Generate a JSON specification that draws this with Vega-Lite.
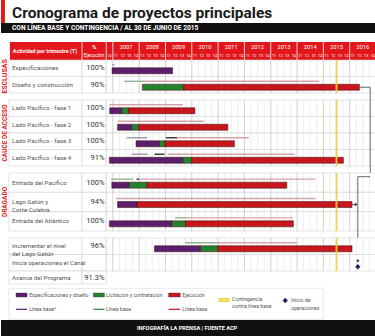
{
"$schema": "https://vega.github.io/schema/vega-lite/v6.json",
"padding": 0,
"background": "white",
"bounds": "flush",
"spacing": 0,
"config": {"view": {"stroke": null}, "font": "Liberation Sans Narrow, Roboto, sans-serif", "axis": {"disable": true}, "legend": {"disable": true}},
"datasets": {
"rows": [
{"g":"E","row":"esp","label":"Especificaciones","pct":"100%"},
{"g":"E","row":"dis","label":"Diseño y construcción","pct":"90%"},
{"g":"C","row":"f1","label":"Lado Pacífico  - fase 1","pct":"100%"},
{"g":"C","row":"f2","label":"Lado Pacífico  - fase 2","pct":"100%"},
{"g":"C","row":"f3","label":"Lado Pacífico  - fase 3","pct":"100%"},
{"g":"C","row":"f4","label":"Lado Pacífico  - fase 4","pct":"91%"},
{"g":"D","row":"ep","label":"Entrada del Pacífico","pct":"100%"},
{"g":"D","row":"lg","label":"Lago Gatún y\nCorte Culebra","pct":"94%"},
{"g":"D","row":"ea","label":"Entrada del Atlántico","pct":"100%"},
{"g":"O","row":"inc","label":"Incrementar el nivel\ndel Lago Gatún","pct":"96%"},
{"g":"O","row":"ini","label":"Inicia operaciones el Canal","pct":""},
{"g":"A","row":"av","label":"Avance del Programa","pct":"91.3%"}
],
"bars": [
{"g":"E","row":"esp","phase":"spec","start":2006.97,"end":2009.27},
{"g":"E","row":"dis","phase":"lic","start":2008.12,"end":2009.69},
{"g":"E","row":"dis","phase":"eje","start":2009.69,"end":2016.37},
{"g":"C","row":"f1","phase":"spec","start":2006.88,"end":2007.34},
{"g":"C","row":"f1","phase":"lic","start":2007.34,"end":2007.6},
{"g":"C","row":"f1","phase":"eje","start":2007.6,"end":2010.12},
{"g":"C","row":"f2","phase":"spec","start":2007.18,"end":2007.72},
{"g":"C","row":"f2","phase":"lic","start":2007.72,"end":2007.98},
{"g":"C","row":"f2","phase":"eje","start":2007.98,"end":2011.37},
{"g":"C","row":"f3","phase":"spec","start":2007.88,"end":2008.77},
{"g":"C","row":"f3","phase":"lic","start":2008.77,"end":2008.98},
{"g":"C","row":"f3","phase":"eje","start":2008.98,"end":2011.62},
{"g":"C","row":"f4","phase":"spec","start":2006.87,"end":2009.66},
{"g":"C","row":"f4","phase":"lic","start":2009.66,"end":2010.0},
{"g":"C","row":"f4","phase":"eje","start":2010.0,"end":2015.76},
{"g":"D","row":"ep","phase":"spec","start":2006.96,"end":2007.63},
{"g":"D","row":"ep","phase":"lic","start":2007.63,"end":2008.3},
{"g":"D","row":"ep","phase":"eje","start":2008.3,"end":2013.61},
{"g":"D","row":"lg","phase":"spec","start":2007.18,"end":2007.92},
{"g":"D","row":"lg","phase":"eje","start":2007.92,"end":2016.09},
{"g":"D","row":"ea","phase":"spec","start":2006.87,"end":2009.24},
{"g":"D","row":"ea","phase":"lic","start":2009.24,"end":2009.76},
{"g":"D","row":"ea","phase":"eje","start":2009.76,"end":2013.86},
{"g":"O","row":"inc","phase":"spec","start":2008.58,"end":2010.33},
{"g":"O","row":"inc","phase":"lic","start":2010.33,"end":2010.99},
{"g":"O","row":"inc","phase":"eje","start":2010.99,"end":2016.09}
],
"base": [
{"g":"E","row":"esp","kind":"spec","start":2006.97,"end":2007.06},
{"g":"E","row":"dis","kind":"lic","start":2007.44,"end":2008.2},
{"g":"E","row":"dis","kind":"eje","start":2008.2,"end":2014.85},
{"g":"C","row":"f1","kind":"eje","start":2006.87,"end":2009.66},
{"g":"C","row":"f2","kind":"eje","start":2007.18,"end":2010.45},
{"g":"C","row":"f3","kind":"spec","start":2007.53,"end":2008.3},
{"g":"C","row":"f3","kind":"real","start":2009.02,"end":2009.44},
{"g":"C","row":"f3","kind":"eje","start":2009.44,"end":2012.17},
{"g":"C","row":"f4","kind":"spec","start":2007.73,"end":2008.33},
{"g":"C","row":"f4","kind":"real","start":2008.58,"end":2008.96},
{"g":"C","row":"f4","kind":"eje","start":2009.09,"end":2013.9},
{"g":"D","row":"ep","kind":"lic","start":2006.93,"end":2007.76},
{"g":"D","row":"ep","kind":"real","start":2007.9,"end":2008.0},
{"g":"D","row":"ep","kind":"eje","start":2008.0,"end":2014.7},
{"g":"D","row":"lg","kind":"eje","start":2007.12,"end":2014.7},
{"g":"D","row":"ea","kind":"lic","start":2009.36,"end":2009.85},
{"g":"D","row":"ea","kind":"eje","start":2009.85,"end":2013.84},
{"g":"O","row":"inc","kind":"lic","start":2009.74,"end":2010.99},
{"g":"O","row":"inc","kind":"eje","start":2010.99,"end":2014.0}
],
"quarters": [
{"t":2006.75,"q":"T4"},
{"t":2007,"q":"T1"},{"t":2007.25,"q":"T2"},{"t":2007.5,"q":"T3"},{"t":2007.75,"q":"T4"},
{"t":2008,"q":"T1"},{"t":2008.25,"q":"T2"},{"t":2008.5,"q":"T3"},{"t":2008.75,"q":"T4"},
{"t":2009,"q":"T1"},{"t":2009.25,"q":"T2"},{"t":2009.5,"q":"T3"},{"t":2009.75,"q":"T4"},
{"t":2010,"q":"T1"},{"t":2010.25,"q":"T2"},{"t":2010.5,"q":"T3"},{"t":2010.75,"q":"T4"},
{"t":2011,"q":"T1"},{"t":2011.25,"q":"T2"},{"t":2011.5,"q":"T3"},{"t":2011.75,"q":"T4"},
{"t":2012,"q":"T1"},{"t":2012.25,"q":"T2"},{"t":2012.5,"q":"T3"},{"t":2012.75,"q":"T4"},
{"t":2013,"q":"T1"},{"t":2013.25,"q":"T2"},{"t":2013.5,"q":"T3"},{"t":2013.75,"q":"T4"},
{"t":2014,"q":"T1"},{"t":2014.25,"q":"T2"},{"t":2014.5,"q":"T3"},{"t":2014.75,"q":"T4"},
{"t":2015,"q":"T1"},{"t":2015.25,"q":"T2"},{"t":2015.5,"q":"T3"},{"t":2015.75,"q":"T4"},
{"t":2016,"q":"T1"},{"t":2016.25,"q":"T2"},{"t":2016.5,"q":"T3"},{"t":2016.75,"q":"T4"}
],
"years": [
{"year":2007,"label":"2007"},{"year":2008,"label":"2008"},{"year":2009,"label":"2009"},{"year":2010,"label":"2010"},{"year":2011,"label":"2011"},
{"year":2012,"label":"2012"},{"year":2013,"label":"2013"},{"year":2014,"label":"2014"},{"year":2015,"label":"2015"},{"year":2016,"label":"2016"}
]
},
"vconcat": [
{
"width": 375, "height": 23,
"data": {"values": [{}]},
"layer": [
{"mark": {"type": "rect", "fill": "#e3161c"},
 "encoding": {"x": {"datum": 2002.75, "type": "quantitative", "scale": {"domain": [2002.75, 2017], "nice": false, "zero": false}, "axis": null}, "x2": {"datum": 2002.9}}},
{"mark": {"type": "text", "text": "Cronograma de proyectos principales", "align": "left", "baseline": "middle", "fontSize": 15.5, "fontWeight": "bold", "fill": "#1a1a1a", "dy": 1},
 "encoding": {"x": {"datum": 2003.17, "type": "quantitative"}}}
]
},
{
"width": 375, "height": 10,
"view": {"fill": "#111111", "stroke": null},
"data": {"values": [{}]},
"mark": {"type": "text", "text": "CON LÍNEA BASE Y CONTINGENCIA / AL 30 DE JUNIO DE 2015", "align": "left", "baseline": "middle", "fontSize": 6.6, "fontWeight": "bold", "fill": "white"},
"encoding": {"x": {"datum": 2003.17, "type": "quantitative", "scale": {"domain": [2002.75, 2017], "nice": false, "zero": false}, "axis": null}}
},
{
"width": 375, "height": 27,
"layer": [
{"data": {"values": [{"b": "yr"}, {"b": "qt"}]},
 "mark": {"type": "rect", "fill": "#e3161c"},
 "encoding": {"x": {"datum": 2003.09, "type": "quantitative", "scale": {"domain": [2002.75, 2017], "nice": false, "zero": false}, "axis": null}, "x2": {"datum": 2017},
  "y": {"field": "b", "type": "nominal", "scale": {"type": "band", "domain": ["blank", "yr", "qt"], "paddingInner": 0, "paddingOuter": 0}, "axis": null}}},
{"data": {"name": "quarters"}, "transform": [{"filter": "datum.q == 'T1'"}],
 "mark": {"type": "rule", "stroke": "white", "strokeWidth": 0.8},
 "encoding": {"x": {"field": "t", "type": "quantitative"}}},
{"data": {"values": [{}]}, "mark": {"type": "rule", "stroke": "white", "strokeWidth": 0.8},
 "encoding": {"x": {"datum": 2005.83, "type": "quantitative"}}},
{"data": {"values": [{}]}, "mark": {"type": "rule", "stroke": "white", "strokeWidth": 0.8},
 "encoding": {"x": {"datum": 2006.75, "type": "quantitative"}}},
{"data": {"name": "years"},
 "mark": {"type": "text", "fill": "white", "fontSize": 5.8, "dx": 13.15, "baseline": "middle"},
 "encoding": {"x": {"field": "year", "type": "quantitative"}, "y": {"datum": "yr", "type": "nominal"}, "text": {"field": "label"}}},
{"data": {"name": "quarters"},
 "mark": {"type": "text", "fill": "white", "fontSize": 3.6, "dx": 3.29, "baseline": "middle"},
 "encoding": {"x": {"field": "t", "type": "quantitative"}, "y": {"datum": "qt", "type": "nominal"}, "text": {"field": "q"}}},
{"data": {"values": [{}]},
 "mark": {"type": "text", "text": "Actividad por trimestre (T)", "fill": "white", "fontWeight": "bold", "fontSize": 5.4, "dy": 4.5, "baseline": "middle"},
 "encoding": {"x": {"datum": 2004.42, "type": "quantitative"}, "y": {"datum": "yr", "type": "nominal"}}},
{"data": {"values": [{}]},
 "mark": {"type": "text", "text": "%", "fill": "white", "fontWeight": "bold", "fontSize": 6, "baseline": "middle"},
 "encoding": {"x": {"datum": 2006.29, "type": "quantitative"}, "y": {"datum": "yr", "type": "nominal"}}},
{"data": {"values": [{}]},
 "mark": {"type": "text", "text": "Ejecución", "fill": "white", "fontSize": 4.8, "baseline": "middle"},
 "encoding": {"x": {"datum": 2006.29, "type": "quantitative"}, "y": {"datum": "qt", "type": "nominal"}}}
]
},
{
"width": 375, "height": 33,
"data": {"name": "rows"}, "transform": [{"filter": "datum.g == 'E'"}],
"layer": [
{"mark": {"type": "rect", "fill": "white", "stroke": "#d2d2d2", "strokeWidth": 0.6},
 "encoding": {"x": {"datum": 2003.05, "type": "quantitative", "scale": {"domain": [2002.75, 2017], "nice": false, "zero": false}, "axis": null}, "x2": {"datum": 2005.83},
  "y": {"field": "row", "type": "nominal", "scale": {"type": "band", "domain": ["esp", "dis"], "paddingInner": 0, "paddingOuter": 0}, "axis": null}}},
{"mark": {"type": "rect", "fill": "white", "stroke": "#d2d2d2", "strokeWidth": 0.6},
 "encoding": {"x": {"datum": 2005.83, "type": "quantitative"}, "x2": {"datum": 2006.75}, "y": {"field": "row", "type": "nominal"}}},
{"mark": {"type": "rect", "fill": "white", "stroke": "#d2d2d2", "strokeWidth": 0.6},
 "encoding": {"x": {"datum": 2006.75, "type": "quantitative"}, "x2": {"datum": 2017}, "y": {"field": "row", "type": "nominal"}}},
{"data": {"name": "quarters"}, "mark": {"type": "rule", "strokeWidth": 0.6},
 "encoding": {"x": {"field": "t", "type": "quantitative"}, "stroke": {"condition": {"test": "datum.q == 'T1'", "value": "#b3b3b3"}, "value": "#e2e2e2"}}},
{"data": {"name": "base"}, "transform": [{"filter": "datum.g == 'E'"}],
 "mark": {"type": "rule", "strokeWidth": 1.4, "yOffset": -3.5},
 "encoding": {"x": {"field": "start", "type": "quantitative"}, "x2": {"field": "end"}, "y": {"field": "row", "type": "nominal"},
  "stroke": {"field": "kind", "type": "nominal", "scale": {"domain": ["spec", "lic", "eje", "real"], "range": ["#a394ab", "#93b593", "#d4a5a8", "#333333"]}, "legend": null}}},
{"data": {"name": "bars"}, "transform": [{"filter": "datum.g == 'E'"}],
 "mark": {"type": "bar", "size": 6, "yOffset": 2.5, "stroke": "#3d0a0a", "strokeWidth": 0.5},
 "encoding": {"x": {"field": "start", "type": "quantitative"}, "x2": {"field": "end"}, "y": {"field": "row", "type": "nominal"},
  "color": {"field": "phase", "type": "nominal", "scale": {"domain": ["spec", "lic", "eje"], "range": ["#5b1f6e", "#23832f", "#c8161d"]}, "legend": null}}},
{"data": {"values": [{}]}, "mark": {"type": "rule", "stroke": "#f2cd45", "strokeWidth": 2, "opacity": 0.9},
 "encoding": {"x": {"datum": 2015.5, "type": "quantitative"}}},
{"mark": {"type": "text", "align": "left", "baseline": "middle", "fontSize": 6.2, "fill": "#555555", "lineBreak": "\n", "lineHeight": 7.5},
 "encoding": {"x": {"datum": 2003.17, "type": "quantitative"}, "y": {"field": "row", "type": "nominal"}, "text": {"field": "label"}}},
{"mark": {"type": "text", "align": "right", "baseline": "middle", "fontSize": 7.5, "fill": "#333333"},
 "encoding": {"x": {"datum": 2006.68, "type": "quantitative"}, "y": {"field": "row", "type": "nominal"}, "text": {"field": "pct"}}},
{"data": {"values": [{}]}, "mark": {"type": "text", "text": "ESCLUSAS", "angle": 270, "align": "center", "baseline": "middle", "fontSize": 7, "fontWeight": "bold", "fill": "#d7191c"},
 "encoding": {"x": {"datum": 2002.9, "type": "quantitative"}}},
{"data": {"values": [{}]}, "mark": {"type": "rule", "stroke": "#444444", "strokeWidth": 0.8, "yOffset": 2.5},
 "encoding": {"x": {"datum": 2016.37, "type": "quantitative"}, "x2": {"datum": 2016.78}, "y": {"datum": "dis", "type": "nominal"}}},
{"data": {"values": [{}]}, "mark": {"type": "rule", "stroke": "#444444", "strokeWidth": 0.8, "yOffset": 2.5},
 "encoding": {"x": {"datum": 2016.78, "type": "quantitative"}, "y": {"datum": "dis", "type": "nominal"}, "y2": {"value": "height"}}}
]
},
{
"width": 375, "height": 7,
"data": {"values": [{}]},
"layer": [
{"mark": {"type": "rule", "stroke": "#444444", "strokeWidth": 0.8},
 "encoding": {"x": {"datum": 2016.78, "type": "quantitative", "scale": {"domain": [2002.75, 2017], "nice": false, "zero": false}, "axis": null}}}
]
},
{
"width": 375, "height": 66,
"data": {"name": "rows"}, "transform": [{"filter": "datum.g == 'C'"}],
"layer": [
{"mark": {"type": "rect", "fill": "white", "stroke": "#d2d2d2", "strokeWidth": 0.6},
 "encoding": {"x": {"datum": 2003.05, "type": "quantitative", "scale": {"domain": [2002.75, 2017], "nice": false, "zero": false}, "axis": null}, "x2": {"datum": 2005.83},
  "y": {"field": "row", "type": "nominal", "scale": {"type": "band", "domain": ["f1", "f2", "f3", "f4"], "paddingInner": 0, "paddingOuter": 0}, "axis": null}}},
{"mark": {"type": "rect", "fill": "white", "stroke": "#d2d2d2", "strokeWidth": 0.6},
 "encoding": {"x": {"datum": 2005.83, "type": "quantitative"}, "x2": {"datum": 2006.75}, "y": {"field": "row", "type": "nominal"}}},
{"mark": {"type": "rect", "fill": "white", "stroke": "#d2d2d2", "strokeWidth": 0.6},
 "encoding": {"x": {"datum": 2006.75, "type": "quantitative"}, "x2": {"datum": 2017}, "y": {"field": "row", "type": "nominal"}}},
{"data": {"name": "quarters"}, "mark": {"type": "rule", "strokeWidth": 0.6},
 "encoding": {"x": {"field": "t", "type": "quantitative"}, "stroke": {"condition": {"test": "datum.q == 'T1'", "value": "#b3b3b3"}, "value": "#e2e2e2"}}},
{"data": {"name": "base"}, "transform": [{"filter": "datum.g == 'C'"}],
 "mark": {"type": "rule", "strokeWidth": 1.4, "yOffset": -3.5},
 "encoding": {"x": {"field": "start", "type": "quantitative"}, "x2": {"field": "end"}, "y": {"field": "row", "type": "nominal"},
  "stroke": {"field": "kind", "type": "nominal", "scale": {"domain": ["spec", "lic", "eje", "real"], "range": ["#a394ab", "#93b593", "#d4a5a8", "#333333"]}, "legend": null}}},
{"data": {"name": "bars"}, "transform": [{"filter": "datum.g == 'C'"}],
 "mark": {"type": "bar", "size": 6, "yOffset": 2.5, "stroke": "#3d0a0a", "strokeWidth": 0.5},
 "encoding": {"x": {"field": "start", "type": "quantitative"}, "x2": {"field": "end"}, "y": {"field": "row", "type": "nominal"},
  "color": {"field": "phase", "type": "nominal", "scale": {"domain": ["spec", "lic", "eje"], "range": ["#5b1f6e", "#23832f", "#c8161d"]}, "legend": null}}},
{"data": {"values": [{}]}, "mark": {"type": "rule", "stroke": "#f2cd45", "strokeWidth": 2, "opacity": 0.9},
 "encoding": {"x": {"datum": 2015.5, "type": "quantitative"}}},
{"mark": {"type": "text", "align": "left", "baseline": "middle", "fontSize": 6.2, "fill": "#555555", "lineBreak": "\n", "lineHeight": 7.5},
 "encoding": {"x": {"datum": 2003.17, "type": "quantitative"}, "y": {"field": "row", "type": "nominal"}, "text": {"field": "label"}}},
{"mark": {"type": "text", "align": "right", "baseline": "middle", "fontSize": 7.5, "fill": "#333333"},
 "encoding": {"x": {"datum": 2006.68, "type": "quantitative"}, "y": {"field": "row", "type": "nominal"}, "text": {"field": "pct"}}},
{"data": {"values": [{}]}, "mark": {"type": "text", "text": "CAUCE DE ACCESO", "angle": 270, "align": "center", "baseline": "middle", "fontSize": 6.5, "fontWeight": "bold", "fill": "#d7191c"},
 "encoding": {"x": {"datum": 2002.9, "type": "quantitative"}}},
{"data": {"values": [{}]}, "mark": {"type": "rule", "stroke": "#444444", "strokeWidth": 0.8},
 "encoding": {"x": {"datum": 2016.78, "type": "quantitative"}}}
]
},
{
"width": 375, "height": 7,
"data": {"values": [{}]},
"layer": [
{"mark": {"type": "rule", "stroke": "#444444", "strokeWidth": 0.8},
 "encoding": {"x": {"datum": 2016.78, "type": "quantitative", "scale": {"domain": [2002.75, 2017], "nice": false, "zero": false}, "axis": null}}}
]
},
{
"width": 375, "height": 58,
"data": {"name": "rows"}, "transform": [{"filter": "datum.g == 'D'"}],
"layer": [
{"mark": {"type": "rect", "fill": "white", "stroke": "#d2d2d2", "strokeWidth": 0.6},
 "encoding": {"x": {"datum": 2003.05, "type": "quantitative", "scale": {"domain": [2002.75, 2017], "nice": false, "zero": false}, "axis": null}, "x2": {"datum": 2005.83},
  "y": {"field": "row", "type": "nominal", "scale": {"type": "band", "domain": ["ep", "lg", "ea"], "paddingInner": 0, "paddingOuter": 0}, "axis": null}}},
{"mark": {"type": "rect", "fill": "white", "stroke": "#d2d2d2", "strokeWidth": 0.6},
 "encoding": {"x": {"datum": 2005.83, "type": "quantitative"}, "x2": {"datum": 2006.75}, "y": {"field": "row", "type": "nominal"}}},
{"mark": {"type": "rect", "fill": "white", "stroke": "#d2d2d2", "strokeWidth": 0.6},
 "encoding": {"x": {"datum": 2006.75, "type": "quantitative"}, "x2": {"datum": 2017}, "y": {"field": "row", "type": "nominal"}}},
{"data": {"name": "quarters"}, "mark": {"type": "rule", "strokeWidth": 0.6},
 "encoding": {"x": {"field": "t", "type": "quantitative"}, "stroke": {"condition": {"test": "datum.q == 'T1'", "value": "#b3b3b3"}, "value": "#e2e2e2"}}},
{"data": {"name": "base"}, "transform": [{"filter": "datum.g == 'D'"}],
 "mark": {"type": "rule", "strokeWidth": 1.4, "yOffset": -3.5},
 "encoding": {"x": {"field": "start", "type": "quantitative"}, "x2": {"field": "end"}, "y": {"field": "row", "type": "nominal"},
  "stroke": {"field": "kind", "type": "nominal", "scale": {"domain": ["spec", "lic", "eje", "real"], "range": ["#a394ab", "#93b593", "#d4a5a8", "#333333"]}, "legend": null}}},
{"data": {"name": "bars"}, "transform": [{"filter": "datum.g == 'D'"}],
 "mark": {"type": "bar", "size": 6, "yOffset": 2.5, "stroke": "#3d0a0a", "strokeWidth": 0.5},
 "encoding": {"x": {"field": "start", "type": "quantitative"}, "x2": {"field": "end"}, "y": {"field": "row", "type": "nominal"},
  "color": {"field": "phase", "type": "nominal", "scale": {"domain": ["spec", "lic", "eje"], "range": ["#5b1f6e", "#23832f", "#c8161d"]}, "legend": null}}},
{"data": {"values": [{}]}, "mark": {"type": "rule", "stroke": "#f2cd45", "strokeWidth": 2, "opacity": 0.9},
 "encoding": {"x": {"datum": 2015.5, "type": "quantitative"}}},
{"mark": {"type": "text", "align": "left", "baseline": "middle", "fontSize": 6.2, "fill": "#555555", "lineBreak": "\n", "lineHeight": 7.5},
 "encoding": {"x": {"datum": 2003.17, "type": "quantitative"}, "y": {"field": "row", "type": "nominal"}, "text": {"field": "label"}}},
{"mark": {"type": "text", "align": "right", "baseline": "middle", "fontSize": 7.5, "fill": "#333333"},
 "encoding": {"x": {"datum": 2006.68, "type": "quantitative"}, "y": {"field": "row", "type": "nominal"}, "text": {"field": "pct"}}},
{"data": {"values": [{}]}, "mark": {"type": "text", "text": "DRAGADO", "angle": 270, "align": "center", "baseline": "middle", "fontSize": 6.5, "fontWeight": "bold", "fill": "#d7191c"},
 "encoding": {"x": {"datum": 2002.9, "type": "quantitative"}}},
{"data": {"values": [{}]}, "mark": {"type": "rule", "stroke": "#444444", "strokeWidth": 0.8, "yOffset": -6},
 "encoding": {"x": {"datum": 2016.31, "type": "quantitative"}, "x2": {"datum": 2016.78}, "y": {"datum": "ep", "type": "nominal"}}},
{"data": {"values": [{}]}, "mark": {"type": "rule", "stroke": "#444444", "strokeWidth": 0.8, "y2Offset": -6},
 "encoding": {"x": {"datum": 2016.78, "type": "quantitative"}, "y": {"value": 0}, "y2": {"datum": "ep", "type": "nominal"}}},
{"data": {"values": [{}]}, "mark": {"type": "rule", "stroke": "#444444", "strokeWidth": 0.8, "yOffset": -6},
 "encoding": {"x": {"datum": 2016.31, "type": "quantitative"}, "y": {"datum": "ep", "type": "nominal"}, "y2": {"value": "height"}}},
{"data": {"values": [{}]}, "mark": {"type": "rule", "stroke": "#444444", "strokeWidth": 0.8, "yOffset": 2.5},
 "encoding": {"x": {"datum": 2016.09, "type": "quantitative"}, "x2": {"datum": 2016.25}, "y": {"datum": "lg", "type": "nominal"}}},
{"data": {"values": [{}]}, "mark": {"type": "point", "shape": "triangle-right", "filled": true, "size": 12, "color": "#333333", "opacity": 1, "yOffset": 2.5},
 "encoding": {"x": {"datum": 2016.25, "type": "quantitative"}, "y": {"datum": "lg", "type": "nominal"}}}
]
},
{
"width": 375, "height": 7,
"data": {"values": [{}]},
"layer": [
{"mark": {"type": "rule", "stroke": "#444444", "strokeWidth": 0.8},
 "encoding": {"x": {"datum": 2016.31, "type": "quantitative", "scale": {"domain": [2002.75, 2017], "nice": false, "zero": false}, "axis": null}}}
]
},
{
"width": 375, "height": 33,
"data": {"name": "rows"}, "transform": [{"filter": "datum.g == 'O'"}],
"layer": [
{"mark": {"type": "rect", "fill": "white", "stroke": "#d2d2d2", "strokeWidth": 0.6},
 "encoding": {"x": {"datum": 2003.05, "type": "quantitative", "scale": {"domain": [2002.75, 2017], "nice": false, "zero": false}, "axis": null}, "x2": {"datum": 2005.83},
  "y": {"field": "row", "type": "nominal", "scale": {"type": "band", "domain": ["inc", "ini"], "paddingInner": 0, "paddingOuter": 0}, "axis": null}}},
{"mark": {"type": "rect", "fill": "white", "stroke": "#d2d2d2", "strokeWidth": 0.6},
 "encoding": {"x": {"datum": 2005.83, "type": "quantitative"}, "x2": {"datum": 2006.75}, "y": {"field": "row", "type": "nominal"}}},
{"mark": {"type": "rect", "fill": "white", "stroke": "#d2d2d2", "strokeWidth": 0.6},
 "encoding": {"x": {"datum": 2006.75, "type": "quantitative"}, "x2": {"datum": 2017}, "y": {"field": "row", "type": "nominal"}}},
{"data": {"name": "quarters"}, "mark": {"type": "rule", "strokeWidth": 0.6},
 "encoding": {"x": {"field": "t", "type": "quantitative"}, "stroke": {"condition": {"test": "datum.q == 'T1'", "value": "#b3b3b3"}, "value": "#e2e2e2"}}},
{"data": {"name": "base"}, "transform": [{"filter": "datum.g == 'O'"}],
 "mark": {"type": "rule", "strokeWidth": 1.4, "yOffset": -3.5},
 "encoding": {"x": {"field": "start", "type": "quantitative"}, "x2": {"field": "end"}, "y": {"field": "row", "type": "nominal"},
  "stroke": {"field": "kind", "type": "nominal", "scale": {"domain": ["spec", "lic", "eje", "real"], "range": ["#a394ab", "#93b593", "#d4a5a8", "#333333"]}, "legend": null}}},
{"data": {"name": "bars"}, "transform": [{"filter": "datum.g == 'O'"}],
 "mark": {"type": "bar", "size": 6, "yOffset": 2.5, "stroke": "#3d0a0a", "strokeWidth": 0.5},
 "encoding": {"x": {"field": "start", "type": "quantitative"}, "x2": {"field": "end"}, "y": {"field": "row", "type": "nominal"},
  "color": {"field": "phase", "type": "nominal", "scale": {"domain": ["spec", "lic", "eje"], "range": ["#5b1f6e", "#23832f", "#c8161d"]}, "legend": null}}},
{"data": {"values": [{}]}, "mark": {"type": "rule", "stroke": "#f2cd45", "strokeWidth": 2, "opacity": 0.9},
 "encoding": {"x": {"datum": 2015.5, "type": "quantitative"}}},
{"mark": {"type": "text", "align": "left", "baseline": "middle", "fontSize": 6.2, "fill": "#555555", "lineBreak": "\n", "lineHeight": 7.5},
 "encoding": {"x": {"datum": 2003.17, "type": "quantitative"}, "y": {"field": "row", "type": "nominal"}, "text": {"field": "label"}}},
{"mark": {"type": "text", "align": "right", "baseline": "middle", "fontSize": 7.5, "fill": "#333333"},
 "encoding": {"x": {"datum": 2006.68, "type": "quantitative"}, "y": {"field": "row", "type": "nominal"}, "text": {"field": "pct"}}},
{"data": {"values": [{}]}, "mark": {"type": "rule", "stroke": "#444444", "strokeWidth": 0.8, "y2Offset": -2},
 "encoding": {"x": {"datum": 2016.31, "type": "quantitative"}, "y": {"value": 0}, "y2": {"datum": "ini", "type": "nominal"}}},
{"data": {"values": [{}]}, "mark": {"type": "point", "shape": "triangle-down", "filled": true, "size": 12, "color": "#333333", "opacity": 1, "yOffset": -1.5},
 "encoding": {"x": {"datum": 2016.31, "type": "quantitative"}, "y": {"datum": "ini", "type": "nominal"}}},
{"data": {"values": [{}]}, "mark": {"type": "point", "shape": "diamond", "filled": true, "size": 28, "color": "#1c2569", "opacity": 1, "yOffset": 4},
 "encoding": {"x": {"datum": 2016.31, "type": "quantitative"}, "y": {"datum": "ini", "type": "nominal"}}}
]
},
{
"width": 375, "height": 13,
"data": {"name": "rows"}, "transform": [{"filter": "datum.g == 'A'"}],
"layer": [
{"mark": {"type": "rect", "fill": "white", "stroke": "#d2d2d2", "strokeWidth": 0.6},
 "encoding": {"x": {"datum": 2003.05, "type": "quantitative", "scale": {"domain": [2002.75, 2017], "nice": false, "zero": false}, "axis": null}, "x2": {"datum": 2005.83},
  "y": {"field": "row", "type": "nominal", "scale": {"type": "band", "domain": ["av"], "paddingInner": 0, "paddingOuter": 0}, "axis": null}}},
{"mark": {"type": "rect", "fill": "white", "stroke": "#d2d2d2", "strokeWidth": 0.6},
 "encoding": {"x": {"datum": 2005.83, "type": "quantitative"}, "x2": {"datum": 2006.75}, "y": {"field": "row", "type": "nominal"}}},
{"mark": {"type": "text", "align": "left", "baseline": "middle", "fontSize": 6.2, "fill": "#555555"},
 "encoding": {"x": {"datum": 2003.17, "type": "quantitative"}, "y": {"field": "row", "type": "nominal"}, "text": {"field": "label"}}},
{"mark": {"type": "text", "align": "right", "baseline": "middle", "fontSize": 7.5, "fill": "#333333"},
 "encoding": {"x": {"datum": 2006.68, "type": "quantitative"}, "y": {"field": "row", "type": "nominal"}, "text": {"field": "pct"}}}
]
},
{
"width": 375, "height": 36,
"data": {"values": [{}]},
"layer": [
{"mark": {"type": "rect", "fill": "white", "stroke": "#dcdcdc", "strokeWidth": 0.7},
 "encoding": {"x": {"datum": 2003.05, "type": "quantitative", "scale": {"domain": [2002.75, 2017], "nice": false, "zero": false}, "axis": null}, "x2": {"datum": 2015.0},
  "y": {"datum": 4.3, "type": "quantitative", "scale": {"domain": [0, 36], "reverse": true, "nice": false, "zero": false}, "axis": null}, "y2": {"datum": 35.3}}},
{"mark": {"type": "rect", "fill": "#5b1f6e", "stroke": "#333333", "strokeWidth": 0.4},
 "encoding": {"x": {"datum": 2003.32, "type": "quantitative"}, "x2": {"datum": 2003.74}, "y": {"datum": 9, "type": "quantitative"}, "y2": {"datum": 13}}},
{"mark": {"type": "rect", "fill": "#23832f", "stroke": "#333333", "strokeWidth": 0.4},
 "encoding": {"x": {"datum": 2006.26, "type": "quantitative"}, "x2": {"datum": 2006.68}, "y": {"datum": 9, "type": "quantitative"}, "y2": {"datum": 13}}},
{"mark": {"type": "rect", "fill": "#c8161d", "stroke": "#333333", "strokeWidth": 0.4},
 "encoding": {"x": {"datum": 2009.12, "type": "quantitative"}, "x2": {"datum": 2009.56}, "y": {"datum": 9, "type": "quantitative"}, "y2": {"datum": 13}}},
{"mark": {"type": "rect", "fill": "#eed23a"},
 "encoding": {"x": {"datum": 2011.02, "type": "quantitative"}, "x2": {"datum": 2011.43}, "y": {"datum": 14, "type": "quantitative"}, "y2": {"datum": 18}}},
{"mark": {"type": "rule", "stroke": "#f9f0b0", "strokeWidth": 0.8},
 "encoding": {"x": {"datum": 2011.02, "type": "quantitative"}, "x2": {"datum": 2011.43}, "y": {"datum": 16, "type": "quantitative"}}},
{"mark": {"type": "rule", "stroke": "#5b1f6e", "strokeWidth": 1.2},
 "encoding": {"x": {"datum": 2003.32, "type": "quantitative"}, "x2": {"datum": 2003.74}, "y": {"datum": 25.3, "type": "quantitative"}}},
{"mark": {"type": "rule", "stroke": "#23832f", "strokeWidth": 1.2},
 "encoding": {"x": {"datum": 2006.26, "type": "quantitative"}, "x2": {"datum": 2006.68}, "y": {"datum": 25.3, "type": "quantitative"}}},
{"mark": {"type": "rule", "stroke": "#c8161d", "strokeWidth": 1.2},
 "encoding": {"x": {"datum": 2009.12, "type": "quantitative"}, "x2": {"datum": 2009.56}, "y": {"datum": 25.3, "type": "quantitative"}}},
{"mark": {"type": "point", "shape": "diamond", "filled": true, "size": 28, "color": "#1c2569", "opacity": 1},
 "encoding": {"x": {"datum": 2013.55, "type": "quantitative"}, "y": {"datum": 16.5, "type": "quantitative"}}},
{"mark": {"type": "text", "text": "Especificaciones y diseño", "align": "left", "baseline": "middle", "fontSize": 5.2, "fill": "#555555"},
 "encoding": {"x": {"datum": 2003.82, "type": "quantitative"}, "y": {"datum": 11, "type": "quantitative"}}},
{"mark": {"type": "text", "text": "Línea base*", "align": "left", "baseline": "middle", "fontSize": 5.2, "fill": "#555555"},
 "encoding": {"x": {"datum": 2003.82, "type": "quantitative"}, "y": {"datum": 25.3, "type": "quantitative"}}},
{"mark": {"type": "text", "text": "Licitación y contratación", "align": "left", "baseline": "middle", "fontSize": 5.2, "fill": "#555555"},
 "encoding": {"x": {"datum": 2006.74, "type": "quantitative"}, "y": {"datum": 11, "type": "quantitative"}}},
{"mark": {"type": "text", "text": "Línea base", "align": "left", "baseline": "middle", "fontSize": 5.2, "fill": "#555555"},
 "encoding": {"x": {"datum": 2006.74, "type": "quantitative"}, "y": {"datum": 25.3, "type": "quantitative"}}},
{"mark": {"type": "text", "text": "Ejecución", "align": "left", "baseline": "middle", "fontSize": 5.2, "fill": "#555555"},
 "encoding": {"x": {"datum": 2009.64, "type": "quantitative"}, "y": {"datum": 11, "type": "quantitative"}}},
{"mark": {"type": "text", "text": "Línea base", "align": "left", "baseline": "middle", "fontSize": 5.2, "fill": "#555555"},
 "encoding": {"x": {"datum": 2009.64, "type": "quantitative"}, "y": {"datum": 25.3, "type": "quantitative"}}},
{"mark": {"type": "text", "text": "Contingencia", "align": "left", "baseline": "middle", "fontSize": 5.2, "fill": "#555555"},
 "encoding": {"x": {"datum": 2011.53, "type": "quantitative"}, "y": {"datum": 15, "type": "quantitative"}}},
{"mark": {"type": "text", "text": "contra línea base", "align": "left", "baseline": "middle", "fontSize": 5.2, "fill": "#555555"},
 "encoding": {"x": {"datum": 2011.53, "type": "quantitative"}, "y": {"datum": 22, "type": "quantitative"}}},
{"mark": {"type": "text", "text": "Inicio de", "align": "left", "baseline": "middle", "fontSize": 5.2, "fill": "#555555"},
 "encoding": {"x": {"datum": 2013.77, "type": "quantitative"}, "y": {"datum": 16, "type": "quantitative"}}},
{"mark": {"type": "text", "text": "operaciones", "align": "left", "baseline": "middle", "fontSize": 5.2, "fill": "#555555"},
 "encoding": {"x": {"datum": 2013.77, "type": "quantitative"}, "y": {"datum": 24, "type": "quantitative"}}}
]
},
{
"width": 375, "height": 16,
"view": {"fill": "#111111", "stroke": null},
"data": {"values": [{}]},
"mark": {"type": "text", "text": "INFOGRAFÍA LA PRENSA  |  FUENTE ACP", "align": "center", "baseline": "middle", "fontSize": 5.6, "fontWeight": "bold", "fill": "white"},
"encoding": {"x": {"datum": 2009.82, "type": "quantitative", "scale": {"domain": [2002.75, 2017], "nice": false, "zero": false}, "axis": null}}
}
]
}
